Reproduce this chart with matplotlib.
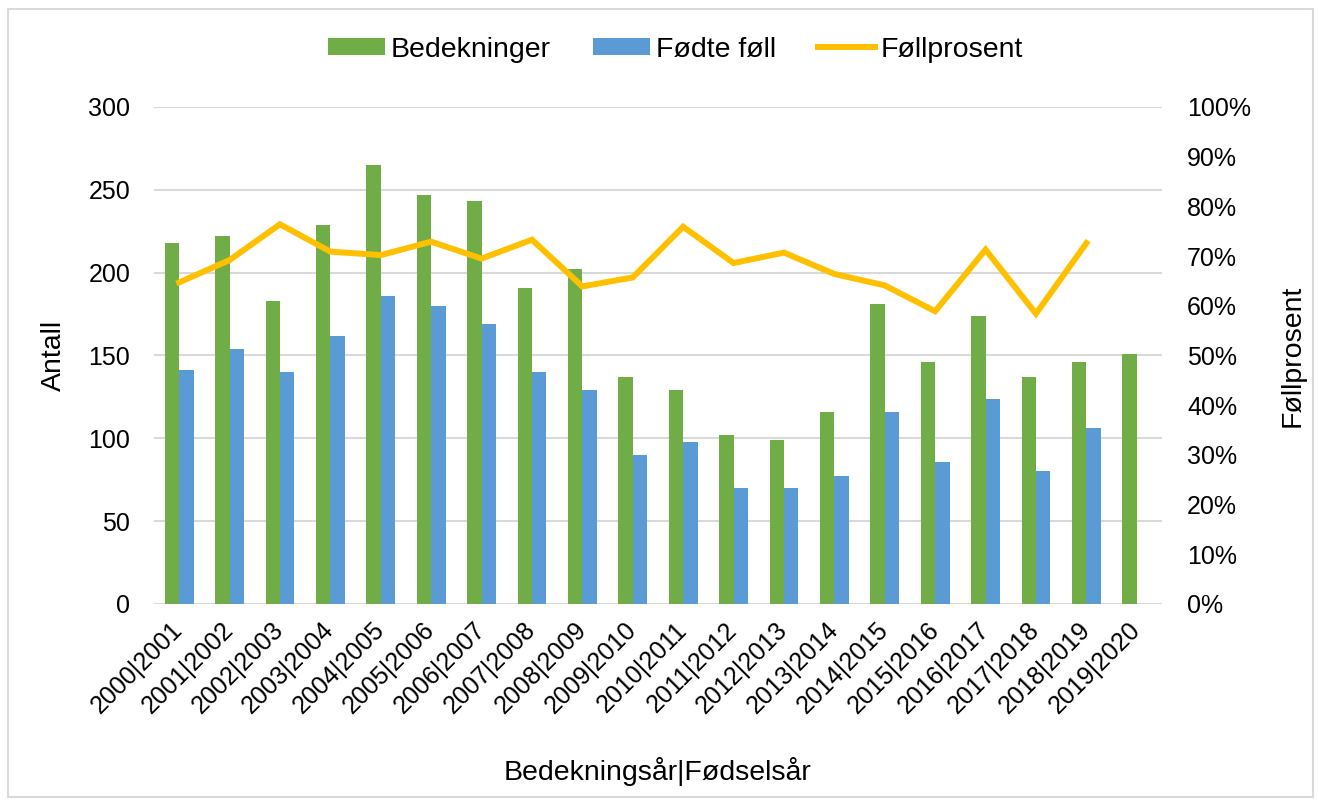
import numpy as np
import matplotlib
matplotlib.use("Agg")
import matplotlib.pyplot as plt
from matplotlib.patches import Rectangle
from matplotlib.ticker import PercentFormatter

# %% Data
categories = ["2000|2001", "2001|2002", "2002|2003", "2003|2004", "2004|2005",
              "2005|2006", "2006|2007", "2007|2008", "2008|2009", "2009|2010",
              "2010|2011", "2011|2012", "2012|2013", "2013|2014", "2014|2015",
              "2015|2016", "2016|2017", "2017|2018", "2018|2019", "2019|2020"]
bedekninger = [218, 222, 183, 229, 265, 247, 243, 191, 202, 137,
               129, 102, 99, 116, 181, 146, 174, 137, 146, 151]
fodte_foll = [141, 154, 140, 162, 186, 180, 169, 140, 129, 90,
              98, 70, 70, 77, 116, 86, 124, 80, 106, np.nan]
follprosent = [64.7, 69.2, 76.4, 70.9, 70.2, 72.9, 69.5, 73.3, 63.9, 65.7,
               75.9, 68.6, 70.7, 66.4, 64.1, 58.9, 71.3, 58.4, 72.6, np.nan]

# %% Stil
plt.rcParams["font.family"] = ["Liberation Sans", "DejaVu Sans"]
plt.rcParams["font.size"] = 18
GREEN = "#70AD47"
BLUE = "#5B9BD5"
YELLOW = "#FFC000"
GRID = "#D9D9D9"
LABEL_SIZE = 20.5

fig = plt.figure(figsize=(13.18, 8.02), dpi=100)
ax1 = fig.add_axes([0.1168, 0.2469, 0.7648, 0.6197])
ax2 = ax1.twinx()

x = np.arange(len(categories))
w = 0.285
b1 = ax1.bar(x - w / 2, bedekninger, width=w, color=GREEN, label="Bedekninger", zorder=2)
b2 = ax1.bar(x + w / 2, fodte_foll, width=w, color=BLUE, label="Fødte føll", zorder=2)
ln, = ax2.plot(x, follprosent, color=YELLOW, lw=4.3, label="Føllprosent",
               solid_joinstyle="miter", zorder=3)

ax1.set_xlim(-0.5, len(categories) - 0.5)
ax1.set_ylim(0, 300)
ax1.set_yticks(np.arange(0, 301, 50))
ax1.yaxis.grid(True, color=GRID, lw=1.5)
ax1.set_axisbelow(True)
ax2.set_ylim(0, 100)
ax2.set_yticks(np.arange(0, 101, 10))
ax2.yaxis.set_major_formatter(PercentFormatter(decimals=0))

for ax in (ax1, ax2):
    for s in ax.spines.values():
        s.set_visible(False)
    ax.tick_params(length=0)
ax1.tick_params(axis="y", pad=17)
ax2.tick_params(axis="y", pad=18)

ax1.set_xticks(x)
ax1.set_xticklabels(categories, rotation=45, ha="right", va="center",
                    rotation_mode="anchor")
ax1.tick_params(axis="x", pad=16)

ax1.set_xlabel("Bedekningsår|Fødselsår", fontsize=LABEL_SIZE)
ax1.xaxis.set_label_coords(0.5, -0.308)
ax1.set_ylabel("Antall", fontsize=LABEL_SIZE)
ax1.yaxis.set_label_coords(-0.086, 0.5)
ax2.set_ylabel("Føllprosent", fontsize=LABEL_SIZE)
ax2.yaxis.set_label_coords(1.117, 0.5)

fig.legend(handles=[b1, b2, ln], loc="center", bbox_to_anchor=(0.5125, 0.938),
           ncol=3, frameon=False, fontsize=LABEL_SIZE, handlelength=2.0,
           handleheight=0.55, columnspacing=1.5, handletextpad=0.2)

# ramme rundt hele figuren
fig.patches.append(Rectangle((0.006, 0.006), 0.99, 0.983, transform=fig.transFigure,
                             fill=False, edgecolor=GRID, lw=1.5))

fig.savefig("out.png", dpi=100, facecolor="white")
